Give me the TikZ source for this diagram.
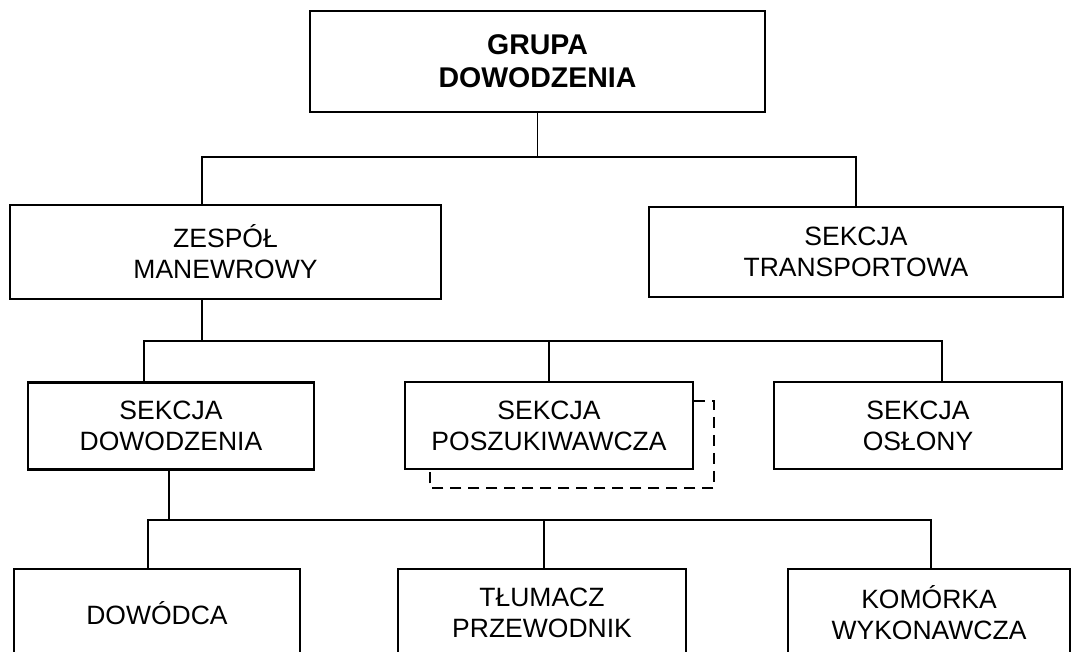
\documentclass[tikz,border=0pt]{standalone}
\usepackage{fontspec}
\setmainfont{Liberation Sans}
\begin{document}
\begin{tikzpicture}[x=1pt,y=-1pt,
  unit/.style={draw, line width=2.2pt, rectangle, inner sep=0pt, align=center,
    font=\fontsize{26.5}{31}\selectfont},
  conn/.style={line width=1.6pt},
  dashline/.style={line width=2.2pt, dash pattern=on 11pt off 7pt}]
\clip (0,0) rectangle (1072,652);
\fill[white] (0,0) rectangle (1072,652);

% top level
\node[unit, minimum width=455pt, minimum height=101pt, font=\fontsize{28.5}{33}\selectfont\bfseries]
  (top) at (537.5,61.5) {GRUPA\\DOWODZENIA};

% second level
\node[unit, minimum width=431pt, minimum height=94pt] (zm) at (225.5,252) {ZESPÓŁ\\MANEWROWY};
\node[unit, minimum width=414pt, minimum height=90pt] (tr) at (856,252) {SEKCJA\\TRANSPORTOWA};

% third level
\node[unit, minimum width=286pt, minimum height=87pt] (sd) at (171,426) {SEKCJA\\DOWODZENIA};
\node[unit, minimum width=288pt, minimum height=87pt] (sp) at (549,425.5) {SEKCJA\\POSZUKIWAWCZA};
\node[unit, minimum width=288pt, minimum height=87pt] (so) at (918,425.5) {SEKCJA\\OSŁONY};

% fourth level
\node[unit, minimum width=286pt, minimum height=88pt] (dow) at (157,613) {DOWÓDCA};
\node[unit, minimum width=288pt, minimum height=88pt] (tp) at (542,613) {TŁUMACZ\\PRZEWODNIK};
\node[unit, minimum width=282pt, minimum height=88pt] (kw) at (929,613) {KOMÓRKA\\WYKONAWCZA};

% bus lines
\coordinate (bus1) at (0,157);
\coordinate (bus2) at (0,341);
\coordinate (bus3) at (0,520);

\draw[conn] (top.south) -- (top.south |- bus1);
\draw[conn] ([xshift=-23.5pt]zm.north) -- ([xshift=-23.5pt]zm.north |- bus1)
  -- (tr.north |- bus1) -- (tr.north);

\draw[conn] ([xshift=-23.5pt]zm.south) -- ([xshift=-23.5pt]zm.south |- bus2);
\draw[conn] ([xshift=-27pt]sd.north) -- ([xshift=-27pt]sd.north |- bus2)
  -- ([xshift=24pt]so.north |- bus2) -- ([xshift=24pt]so.north);
\draw[conn] (sp.north) -- (sp.north |- bus2);

\draw[conn] ([xshift=-2pt]sd.south) -- ([xshift=-2pt]sd.south |- bus3);
\draw[conn] ([xshift=-9pt]dow.north) -- ([xshift=-9pt]dow.north |- bus3)
  -- ([xshift=2pt]kw.north |- bus3) -- ([xshift=2pt]kw.north);
\draw[conn] ([xshift=2pt]tp.north) -- ([xshift=2pt]tp.north |- bus3);

% dashed outline behind the search section
\draw[dashline] ([yshift=-20pt]sp.north east) -| ([xshift=20pt,yshift=-18pt]sp.south east)
  -| ([xshift=26pt]sp.south west);
\end{tikzpicture}
\end{document}
